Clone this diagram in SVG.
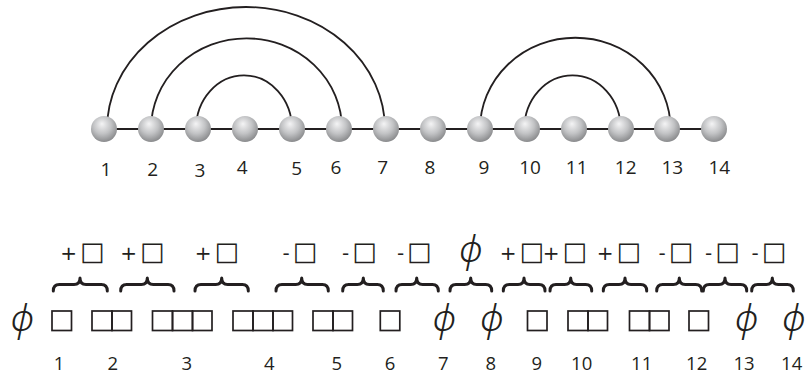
<svg xmlns="http://www.w3.org/2000/svg" width="809" height="379" viewBox="0 0 809 379">
<defs>
<radialGradient id="ballg" cx="0.45" cy="0.38" r="0.62" fx="0.42" fy="0.3">
<stop offset="0" stop-color="#f4f4f5"/>
<stop offset="0.55" stop-color="#c2c3c5"/>
<stop offset="1" stop-color="#8a8b8d"/>
</radialGradient>
</defs>
<style>
.ln{stroke:#231f20;fill:none;stroke-width:1.8}
.arc{stroke:#231f20;fill:none;stroke-width:1.8}
.ball{fill:url(#ballg)}
.num{font-family:"Open Sans","DejaVu Sans",sans-serif;font-size:19px;fill:#231f20;text-anchor:middle}
.num2{font-family:"Open Sans","DejaVu Sans",sans-serif;font-size:18.5px;fill:#231f20;text-anchor:middle}
.lbl{font-family:"DejaVu Sans",sans-serif;font-size:20px;fill:#231f20;text-anchor:middle}
.sq{font-size:26px}
.phi{font-family:"Noto Sans","DejaVu Sans",sans-serif;font-weight:300;font-style:oblique;font-size:37px;fill:#231f20;text-anchor:middle}
.cell{fill:none;stroke:#231f20;stroke-width:1.7}
.brace{fill:none;stroke:#231f20;stroke-width:3;stroke-linecap:round;stroke-linejoin:round}
</style>
<g id="connectors">
<line class="ln" x1="104" y1="129" x2="714" y2="129"/>
<path class="arc" d="M107,129 A139,122 0 0 1 385,129"/>
<path class="arc" d="M151,129 A95.5,90.7 0 0 1 342,129"/>
<path class="arc" d="M196,129 A48,53.7 0 0 1 292,129"/>
<path class="arc" d="M480,129 A95.3,91.3 0 0 1 670.6,129"/>
<path class="arc" d="M524.3,129 A48.2,53.7 0 0 1 620.7,129"/>
</g>
<g id="n1"><circle class="ball" cx="104" cy="129" r="13"/><text class="num" x="106" y="176">1</text></g>
<g id="n2"><circle class="ball" cx="151" cy="129" r="13"/><text class="num" x="152.7" y="176">2</text></g>
<g id="n3"><circle class="ball" cx="198" cy="129" r="13"/><text class="num" x="200" y="176.5">3</text></g>
<g id="n4"><circle class="ball" cx="245" cy="129" r="13"/><text class="num" x="242.3" y="174">4</text></g>
<g id="n5"><circle class="ball" cx="292" cy="129" r="13"/><text class="num" x="296.7" y="175">5</text></g>
<g id="n6"><circle class="ball" cx="339" cy="129" r="13"/><text class="num" x="336" y="174">6</text></g>
<g id="n7"><circle class="ball" cx="386" cy="129" r="13"/><text class="num" x="382.7" y="174">7</text></g>
<g id="n8"><circle class="ball" cx="433" cy="129" r="13"/><text class="num" x="430" y="174">8</text></g>
<g id="n9"><circle class="ball" cx="480" cy="129" r="13"/><text class="num" x="484" y="174">9</text></g>
<g id="n10"><circle class="ball" cx="527" cy="129" r="13"/><text class="num" x="530" y="174">10</text></g>
<g id="n11"><circle class="ball" cx="574" cy="129" r="13"/><text class="num" x="576.7" y="174">11</text></g>
<g id="n12"><circle class="ball" cx="621" cy="129" r="13"/><text class="num" x="625.7" y="174">12</text></g>
<g id="n13"><circle class="ball" cx="667" cy="129" r="13"/><text class="num" x="672.3" y="174">13</text></g>
<g id="n14"><circle class="ball" cx="714" cy="129" r="13"/><text class="num" x="719.3" y="174">14</text></g>

<g id="top-labels">
<text class="lbl" x="82.5" y="260">+<tspan class="sq" dx="3">□</tspan></text>
<text class="lbl" x="142.5" y="260">+<tspan class="sq" dx="3">□</tspan></text>
<text class="lbl" x="217" y="260">+<tspan class="sq" dx="3">□</tspan></text>
<text class="lbl" x="300" y="260">-<tspan class="sq" dx="3">□</tspan></text>
<text class="lbl" x="359.5" y="260">-<tspan class="sq" dx="3">□</tspan></text>
<text class="lbl" x="414.3" y="260">-<tspan class="sq" dx="3">□</tspan></text>
<text class="phi" x="471" y="262">ϕ</text>
<text class="lbl" x="522" y="260">+<tspan class="sq" dx="3">□</tspan></text>
<text class="lbl" x="565" y="260">+<tspan class="sq" dx="3">□</tspan></text>
<text class="lbl" x="619" y="260">+<tspan class="sq" dx="3">□</tspan></text>
<text class="lbl" x="676" y="260">-<tspan class="sq" dx="3">□</tspan></text>
<text class="lbl" x="722.5" y="260">-<tspan class="sq" dx="3">□</tspan></text>
<text class="lbl" x="769" y="260">-<tspan class="sq" dx="3">□</tspan></text>
</g>

<g id="braces">
<path class="brace" d="M53.3,291 Q53.3,284.5 59.3,284.5 L74,284.5 Q80,284.5 80,278 Q80,284.5 86,284.5 L101.3,284.5 Q107.3,284.5 107.3,291"/>
<path class="brace" d="M120.7,291 Q120.7,284.5 126.7,284.5 L141.3,284.5 Q147.3,284.5 147.3,278 Q147.3,284.5 153.3,284.5 L168,284.5 Q174,284.5 174,291"/>
<path class="brace" d="M195,291 Q195,284.5 201,284.5 L215.7,284.5 Q221.7,284.5 221.7,278 Q221.7,284.5 227.7,284.5 L242.3,284.5 Q248.3,284.5 248.3,291"/>
<path class="brace" d="M276,291 Q276,284.5 282,284.5 L295.7,284.5 Q301.7,284.5 301.7,278 Q301.7,284.5 307.7,284.5 L322.3,284.5 Q328.3,284.5 328.3,291"/>
<path class="brace" d="M342.7,291 Q342.7,284.5 348.7,284.5 L357.3,284.5 Q363.3,284.5 363.3,278 Q363.3,284.5 369.3,284.5 L377.3,284.5 Q383.3,284.5 383.3,291"/>
<path class="brace" d="M396,291 Q396,284.5 402,284.5 L410.7,284.5 Q416.7,284.5 416.7,278 Q416.7,284.5 422.7,284.5 L432.3,284.5 Q438.3,284.5 438.3,291"/>
<path class="brace" d="M450,291 Q450,284.5 456,284.5 L464.7,284.5 Q470.7,284.5 470.7,278 Q470.7,284.5 476.7,284.5 L485.7,284.5 Q491.7,284.5 491.7,291"/>
<path class="brace" d="M503.3,291 Q503.3,284.5 509.3,284.5 L518,284.5 Q524,284.5 524,278 Q524,284.5 530,284.5 L539,284.5 Q545,284.5 545,291"/>
<path class="brace" d="M550,291 Q550,284.5 556,284.5 L564.7,284.5 Q570.7,284.5 570.7,278 Q570.7,284.5 576.7,284.5 L585.7,284.5 Q591.7,284.5 591.7,291"/>
<path class="brace" d="M603.3,291 Q603.3,284.5 609.3,284.5 L619,284.5 Q625,284.5 625,278 Q625,284.5 631,284.5 L640.7,284.5 Q646.7,284.5 646.7,291"/>
<path class="brace" d="M656.7,291 Q656.7,284.5 662.7,284.5 L673.3,284.5 Q679.3,284.5 679.3,278 Q679.3,284.5 685.3,284.5 L695.7,284.5 Q701.7,284.5 701.7,291"/>
<path class="brace" d="M703.3,291 Q703.3,284.5 709.3,284.5 L719,284.5 Q725,284.5 725,278 Q725,284.5 731,284.5 L740.7,284.5 Q746.7,284.5 746.7,291"/>
<path class="brace" d="M751.7,291 Q751.7,284.5 757.7,284.5 L766.3,284.5 Q772.3,284.5 772.3,278 Q772.3,284.5 778.3,284.5 L787.3,284.5 Q793.3,284.5 793.3,291"/>
</g>

<g id="cells">
<text class="phi" x="22.5" y="330.5">ϕ</text>
<rect class="cell" x="52" y="311" width="19.5" height="19.5"/>
<rect class="cell" x="92" y="311" width="20" height="19.5"/><rect class="cell" x="112" y="311" width="19.5" height="19.5"/>
<rect class="cell" x="152.5" y="311" width="20" height="19.5"/><rect class="cell" x="172.5" y="311" width="20" height="19.5"/><rect class="cell" x="192.5" y="311" width="19.5" height="19.5"/>
<rect class="cell" x="233" y="311" width="20" height="19.5"/><rect class="cell" x="253" y="311" width="20" height="19.5"/><rect class="cell" x="273" y="311" width="19.5" height="19.5"/>
<rect class="cell" x="313" y="311" width="20" height="19.5"/><rect class="cell" x="333" y="311" width="19.5" height="19.5"/>
<rect class="cell" x="380.3" y="311" width="19.5" height="19.5"/>
<text class="phi" x="444.5" y="330.5">ϕ</text>
<text class="phi" x="492" y="330.5">ϕ</text>
<rect class="cell" x="527.5" y="311" width="19.5" height="19.5"/>
<rect class="cell" x="568" y="311" width="20" height="19.5"/><rect class="cell" x="588" y="311" width="19.5" height="19.5"/>
<rect class="cell" x="629.5" y="311" width="20" height="19.5"/><rect class="cell" x="649.5" y="311" width="19.5" height="19.5"/>
<rect class="cell" x="689" y="311" width="19.5" height="19.5"/>
<text class="phi" x="746.7" y="330.5">ϕ</text>
<text class="phi" x="794" y="330.5">ϕ</text>
</g>

<g id="bottom-numbers">
<text class="num2" x="59" y="370">1</text>
<text class="num2" x="112.7" y="370">2</text>
<text class="num2" x="186.7" y="370">3</text>
<text class="num2" x="269.3" y="370">4</text>
<text class="num2" x="336.7" y="370">5</text>
<text class="num2" x="390" y="370">6</text>
<text class="num2" x="443.3" y="370">7</text>
<text class="num2" x="490.7" y="370">8</text>
<text class="num2" x="536.7" y="370">9</text>
<text class="num2" x="581.7" y="370">10</text>
<text class="num2" x="641.7" y="370">11</text>
<text class="num2" x="696.7" y="370">12</text>
<text class="num2" x="744" y="370">13</text>
<text class="num2" x="791.7" y="370">14</text>
</g>
</svg>
